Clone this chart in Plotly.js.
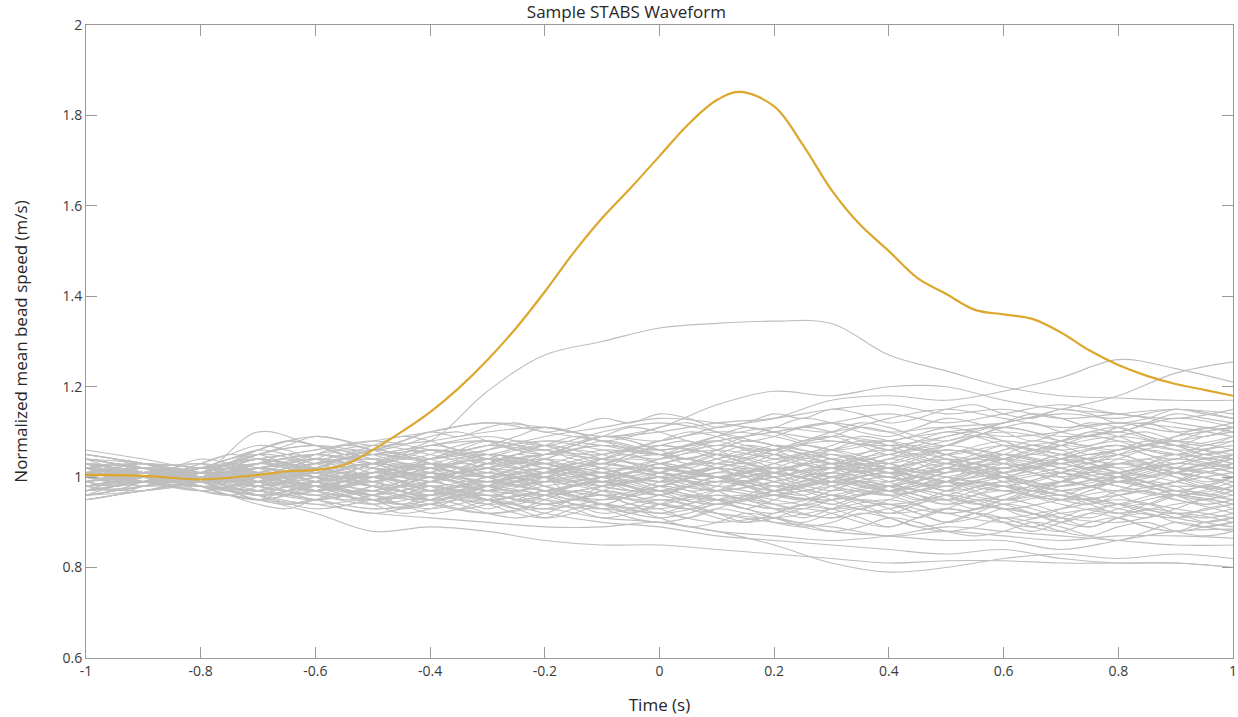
<!DOCTYPE html>
<html>
<head>
<meta charset="utf-8">
<script src="https://cdn.plot.ly/plotly-3.0.1.min.js"></script>
<style>html,body{margin:0;padding:0;background:#fff;}#chart{width:1238px;height:717px;}</style>
</head>
<body>
<div id="chart"></div>
<script>
// ---- data ----
const timeGrid = [-1,-0.9,-0.8,-0.7,-0.6,-0.5,-0.4,-0.3,-0.2,-0.1,0,0.1,0.2,0.3,0.4,0.5,0.6,0.7,0.8,0.9,1];
const timeGridFine = [-1,-0.95,-0.9,-0.85,-0.8,-0.75,-0.7,-0.65,-0.6,-0.55,-0.5,-0.45,-0.4,-0.35,-0.3,-0.25,-0.2,-0.15,-0.1,-0.05,0,0.05,0.1,0.15,0.2,0.25,0.3,0.35,0.4,0.45,0.5,0.55,0.6,0.65,0.7,0.75,0.8,0.85,0.9,0.95,1];

const sampleTime = [-1,-0.9,-0.8,-0.7,-0.65,-0.6,-0.55,-0.5,-0.45,-0.4,-0.35,-0.3,-0.25,-0.2,-0.15,-0.1,-0.05,0,0.05,0.1,0.14,0.2,0.25,0.3,0.35,0.4,0.45,0.5,0.55,0.6,0.65,0.7,0.75,0.8,0.85,0.9,0.95,1];
const sampleSpeed = [1.005,1.003,0.995,1.005,1.013,1.016,1.027,1.06,1.10,1.144,1.197,1.259,1.33,1.41,1.496,1.573,1.64,1.71,1.78,1.834,1.852,1.82,1.735,1.635,1.558,1.50,1.44,1.405,1.37,1.36,1.35,1.32,1.28,1.248,1.224,1.206,1.193,1.18];

// other bead-speed traces, coarse grid (timeGrid)
const g01 = [1.00,1.01,0.99,1.02,1.03,1.05,1.08,1.19,1.27,1.30,1.33,1.34,1.345,1.34,1.27,1.235,1.20,1.18,1.175,1.17,1.17];
const g02 = [1.02,1.00,1.01,0.99,1.03,1.05,1.04,1.07,1.06,1.09,1.08,1.11,1.13,1.17,1.18,1.17,1.19,1.22,1.26,1.24,1.21];
const g03 = [0.98,1.00,1.02,1.04,1.01,0.99,1.02,1.04,1.03,1.06,1.05,1.07,1.06,1.09,1.08,1.11,1.12,1.15,1.18,1.23,1.255];
const g04 = [1.03,1.02,1.00,1.05,1.07,1.06,1.10,1.12,1.11,1.09,1.11,1.16,1.19,1.18,1.20,1.20,1.17,1.15,1.14,1.12,1.10];
const g05 = [0.98,0.99,0.97,0.95,0.92,0.88,0.89,0.88,0.86,0.85,0.85,0.84,0.83,0.82,0.81,0.815,0.815,0.81,0.81,0.81,0.80];
const g06 = [1.03,1.01,0.98,0.97,0.95,0.93,0.94,0.92,0.93,0.91,0.90,0.88,0.85,0.81,0.79,0.80,0.82,0.83,0.82,0.83,0.82];
const g07 = [0.95,0.97,0.99,0.96,0.94,0.95,0.93,0.95,0.92,0.90,0.89,0.87,0.86,0.85,0.84,0.83,0.84,0.82,0.81,0.81,0.80];
const g08 = [1.00,1.01,0.98,1.00,0.97,0.95,0.96,0.94,0.95,0.93,0.92,0.90,0.91,0.88,0.87,0.86,0.86,0.84,0.86,0.88,0.885];
const g09 = [0.96,0.98,1.00,0.98,0.96,0.97,0.95,0.96,0.94,0.93,0.95,0.92,0.90,0.89,0.87,0.88,0.87,0.86,0.87,0.87,0.865];
const g10 = [1.05,1.03,1.01,1.06,1.09,1.07,1.08,1.10,1.11,1.09,1.10,1.12,1.13,1.15,1.16,1.14,1.15,1.13,1.14,1.15,1.14];
const g11 = [1.06,1.04,1.02,1.04,1.06,1.08,1.10,1.12,1.10,1.08,1.06,1.09,1.11,1.10,1.13,1.15,1.13,1.11,1.12,1.10,1.12];
const g12 = [1.04,1.02,1.00,1.01,1.03,1.05,1.04,1.06,1.09,1.11,1.13,1.12,1.10,1.08,1.07,1.09,1.12,1.14,1.13,1.15,1.13];
const g13 = [1.02,1.03,1.01,1.10,1.07,1.05,1.06,1.04,1.05,1.07,1.06,1.08,1.10,1.12,1.10,1.11,1.09,1.10,1.12,1.11,1.09];
const g14 = [1.01,1.00,1.02,1.03,1.05,1.04,1.07,1.08,1.06,1.05,1.08,1.10,1.09,1.06,1.08,1.10,1.11,1.09,1.10,1.13,1.11];
const g15 = [1.00,1.01,1.00,0.99,1.01,1.02,1.00,0.98,1.00,1.02,1.01,0.99,1.00,1.03,1.02,1.00,0.98,1.01,1.03,1.02,1.00];
const g16 = [0.99,1.00,1.01,1.03,1.02,1.00,1.03,1.05,1.03,1.01,1.04,1.06,1.04,1.02,1.05,1.07,1.05,1.03,1.06,1.08,1.06];
const g17 = [1.01,0.99,0.98,0.97,0.99,1.01,0.99,0.97,0.96,0.98,1.00,0.98,0.96,0.95,0.97,0.99,0.97,0.95,0.96,0.98,0.97];
const g18 = [0.98,1.00,1.02,1.01,0.98,0.97,1.00,1.02,1.04,1.02,0.99,1.01,1.04,1.06,1.03,1.01,1.04,1.07,1.05,1.02,1.04];
const g19 = [1.03,1.01,0.99,1.00,1.02,0.99,0.97,0.99,1.01,1.03,1.00,0.97,0.99,1.02,1.00,0.97,0.95,0.98,1.00,0.97,0.95];
const g20 = [0.97,0.99,1.00,0.98,1.00,1.03,1.01,0.99,0.97,0.95,0.97,1.00,1.02,1.00,0.98,1.01,1.03,1.01,0.98,0.96,0.98];
const g21 = [1.02,1.00,0.99,1.01,1.04,1.02,1.00,1.03,1.05,1.04,1.02,1.00,0.98,1.01,1.04,1.06,1.04,1.01,0.99,1.01,1.03];
const g22 = [1.00,0.98,0.99,1.02,1.00,0.98,0.96,0.98,1.00,0.98,0.96,0.94,0.97,0.99,0.97,0.94,0.96,0.99,1.01,0.99,0.96];
const g23 = [0.96,0.98,1.00,1.02,1.04,1.02,0.99,1.01,0.99,1.01,1.03,1.05,1.03,1.00,1.02,1.04,1.02,1.05,1.07,1.05,1.08];
const g24 = [1.04,1.02,1.01,0.99,0.97,1.00,1.02,1.00,1.02,1.05,1.07,1.05,1.02,1.04,1.06,1.03,1.01,1.03,1.00,1.03,1.05];
const g25 = [0.99,1.01,1.00,0.97,0.95,0.97,0.99,1.01,0.98,0.96,0.98,1.01,0.99,0.96,0.94,0.96,0.99,0.97,0.94,0.92,0.94];
const g26 = [1.01,1.02,1.00,1.02,1.00,1.01,1.03,1.01,0.99,1.00,1.02,1.03,1.01,0.99,1.01,0.99,1.02,1.04,1.02,1.04,1.02];
const g27 = [0.95,0.97,0.99,1.01,0.99,0.96,0.95,0.97,0.99,0.97,0.95,0.96,0.94,0.96,0.98,0.96,0.93,0.95,0.97,0.95,0.92];
const g28 = [1.05,1.03,1.00,1.02,1.05,1.07,1.05,1.02,1.00,1.03,1.05,1.03,1.06,1.08,1.06,1.03,1.06,1.08,1.10,1.07,1.09];
const g29 = [0.98,0.99,1.01,1.00,0.97,0.99,1.02,1.04,1.02,0.99,0.97,0.99,1.02,0.99,0.96,0.98,1.00,0.98,1.00,1.03,1.01];
const g30 = [1.02,1.01,0.99,0.96,0.98,1.00,0.98,0.96,0.98,1.00,1.02,1.00,0.97,0.99,1.01,0.99,0.97,0.99,0.97,0.99,1.01];
const g31 = [0.97,0.99,1.01,1.03,1.05,1.03,1.06,1.04,1.01,1.03,1.01,0.98,1.00,1.02,1.00,1.03,1.05,1.03,1.01,1.04,1.06];
const g32 = [1.00,1.02,1.01,0.98,0.96,0.94,0.96,0.98,0.96,0.94,0.92,0.94,0.96,0.94,0.92,0.93,0.91,0.93,0.95,0.93,0.91];
const g33 = [1.03,1.02,1.00,1.03,1.01,0.98,1.00,0.97,0.99,1.01,0.99,1.02,1.00,1.03,1.05,1.02,1.00,1.02,1.04,1.01,0.99];
const g34 = [0.96,0.97,0.99,0.98,1.01,1.03,1.01,0.98,0.96,0.98,1.00,1.02,1.05,1.03,1.00,0.98,1.00,1.03,1.05,1.07,1.04];
const g35 = [1.01,1.00,0.98,0.96,0.93,0.95,0.97,0.95,0.93,0.95,0.97,0.95,0.93,0.91,0.93,0.95,0.93,0.91,0.90,0.92,0.90];
const g36 = [0.99,1.01,1.02,1.04,1.06,1.08,1.06,1.03,1.05,1.07,1.05,1.03,1.01,1.04,1.02,1.05,1.08,1.06,1.08,1.06,1.07];
const g37 = [1.02,1.00,0.99,1.00,0.98,1.00,0.97,0.95,0.97,0.99,0.96,0.94,0.96,0.98,1.00,0.97,0.99,1.01,0.98,0.96,0.99];
const g38 = [0.98,1.00,1.01,0.99,1.02,1.04,1.02,1.00,1.02,0.99,1.01,1.04,1.06,1.04,1.01,1.03,1.00,0.97,0.99,1.01,0.98];
const g39 = [1.04,1.03,1.01,1.05,1.03,1.00,1.01,0.99,1.01,1.04,1.02,1.00,1.02,1.00,0.97,0.99,1.01,1.04,1.06,1.08,1.10];
const g40 = [0.97,0.98,1.00,1.02,0.99,0.97,0.94,0.92,0.94,0.96,0.94,0.92,0.91,0.93,0.95,0.92,0.90,0.92,0.94,0.97,0.95];
const g41 = [1.00,0.99,1.00,1.03,1.05,1.03,1.00,1.02,1.00,0.98,1.00,1.02,1.00,0.97,0.99,1.02,1.04,1.02,0.99,0.97,1.00];
const g42 = [0.99,1.00,0.98,0.96,0.97,0.99,1.01,0.99,1.02,1.00,0.97,0.95,0.97,1.00,1.02,1.00,0.98,0.96,0.94,0.96,0.94];
const g43 = [1.01,1.02,1.03,1.01,0.99,1.01,1.04,1.06,1.08,1.06,1.04,1.07,1.05,1.03,1.05,1.08,1.10,1.08,1.06,1.09,1.11];
const g44 = [0.95,0.97,0.98,0.97,0.95,0.93,0.94,0.96,0.94,0.96,0.94,0.97,0.95,0.93,0.94,0.92,0.94,0.96,0.93,0.91,0.93];
const g45 = [1.03,1.01,1.00,0.99,1.01,1.00,0.98,1.00,1.03,1.01,0.99,0.97,0.99,1.01,0.99,1.02,1.00,0.98,1.01,1.03,1.02];
const g46 = [1.00,1.01,0.99,1.00,1.03,1.05,1.07,1.09,1.07,1.10,1.12,1.10,1.07,1.05,1.03,1.06,1.04,1.07,1.09,1.07,1.05];
const g47 = [0.98,0.97,0.99,1.01,0.98,0.96,0.98,0.95,0.97,0.99,1.01,0.99,1.01,0.98,0.96,0.98,0.95,0.97,0.99,1.02,1.00];
const g48 = [1.02,1.03,1.02,1.00,1.02,1.00,1.03,1.00,0.97,0.99,0.97,0.99,0.97,0.99,0.97,1.00,1.02,1.00,1.03,1.00,0.97];
const g49 = [0.97,0.99,1.01,1.05,1.07,1.04,1.02,1.05,1.03,1.00,1.02,1.00,1.03,1.06,1.08,1.05,1.07,1.05,1.03,1.05,1.03];
const g50 = [1.01,0.99,0.97,0.99,0.97,0.95,0.97,0.99,0.97,0.94,0.93,0.95,0.93,0.95,0.97,0.95,0.97,0.94,0.92,0.94,0.96];
const g51 = [1.00,0.99,0.97,0.95,0.94,0.92,0.91,0.90,0.89,0.89,0.90,0.88,0.87,0.86,0.87,0.89,0.88,0.87,0.86,0.85,0.85];
const g52 = [1.03,1.00,1.01,1.04,1.02,1.03,1.06,1.05,1.08,1.07,1.05,1.08,1.10,1.12,1.14,1.12,1.14,1.16,1.14,1.13,1.15];

// other bead-speed traces, fine grid (timeGridFine)
const h01 = [1.04,1.03,1.01,1.00,1.01, 1.03,1.06,1.08,1.07,1.05, 1.06,1.08,1.10,1.09,1.11, 1.12,1.10,1.11,1.13,1.12, 1.14,1.13,1.11,1.12,1.14, 1.13,1.15,1.14,1.12,1.13, 1.15,1.16,1.14,1.13,1.15, 1.14,1.12,1.13,1.15,1.14, 1.13];
const h02 = [0.96,0.97,0.99,1.00,0.99, 0.97,0.95,0.94,0.95,0.93, 0.92,0.93,0.95,0.94,0.92, 0.91,0.92,0.94,0.93,0.91, 0.90,0.91,0.93,0.92,0.90, 0.89,0.90,0.92,0.91,0.89, 0.88,0.89,0.91,0.90,0.88, 0.87,0.89,0.90,0.88,0.87, 0.88];
const h03 = [1.01,1.02,1.03,1.02,1.00, 1.02,1.04,1.03,1.05,1.07, 1.06,1.04,1.05,1.07,1.08, 1.06,1.05,1.07,1.09,1.08, 1.06,1.07,1.09,1.11,1.10, 1.08,1.09,1.11,1.10,1.08, 1.07,1.09,1.11,1.12,1.10, 1.09,1.11,1.12,1.10,1.09, 1.11];
const h04 = [0.99,0.98,0.99,1.00,1.01, 0.99,0.98,0.96,0.97,0.99, 0.98,0.96,0.95,0.97,0.98, 0.96,0.94,0.95,0.97,0.96, 0.94,0.93,0.95,0.96,0.94, 0.93,0.95,0.97,0.96,0.94, 0.92,0.93,0.95,0.94,0.92, 0.91,0.93,0.94,0.92,0.91, 0.92];
const h05 = [1.02,1.01,1.00,0.99,1.00, 1.02,1.01,0.99,1.00,1.02, 1.03,1.01,1.00,1.02,1.04, 1.03,1.01,1.02,1.04,1.05, 1.03,1.02,1.04,1.06,1.05, 1.03,1.02,1.04,1.06,1.07, 1.05,1.04,1.06,1.08,1.07, 1.05,1.06,1.08,1.07,1.05, 1.06];
const h06 = [0.97,0.98,1.00,1.01,1.00, 0.98,0.97,0.99,1.01,1.00, 0.98,0.97,0.99,1.00,0.98, 0.97,0.99,1.01,1.00,0.98, 0.96,0.98,1.00,0.99,0.97, 0.95,0.97,0.99,0.98,0.96, 0.95,0.97,0.98,0.96,0.95, 0.97,0.99,0.98,0.96,0.95, 0.97];
const h07 = [1.05,1.04,1.02,1.01,1.02, 1.04,1.05,1.03,1.02,1.04, 1.06,1.05,1.03,1.02,1.04, 1.06,1.07,1.05,1.03,1.05, 1.07,1.08,1.06,1.04,1.06, 1.08,1.09,1.07,1.05,1.07, 1.09,1.10,1.08,1.06,1.08, 1.10,1.11,1.09,1.07,1.09, 1.10];
const h08 = [0.98,0.99,1.00,0.99,0.98, 0.96,0.94,0.93,0.95,0.96, 0.94,0.92,0.93,0.95,0.94, 0.92,0.91,0.93,0.94,0.92, 0.91,0.92,0.94,0.93,0.91, 0.90,0.92,0.93,0.91,0.89, 0.90,0.92,0.91,0.89,0.88, 0.90,0.91,0.89,0.88,0.89, 0.90];
const h09 = [1.00,1.01,1.02,1.01,1.00, 1.01,1.03,1.02,1.00,0.99, 1.01,1.03,1.02,1.00,1.01, 1.03,1.04,1.02,1.00,1.01, 1.03,1.02,1.00,0.99,1.01, 1.03,1.02,1.00,0.98,1.00, 1.02,1.01,0.99,0.97,0.99, 1.01,1.00,0.98,0.99,1.01, 1.02];
const h10 = [1.03,1.02,1.01,1.00,1.01, 1.03,1.05,1.07,1.09,1.08, 1.06,1.07,1.09,1.10,1.08, 1.06,1.07,1.09,1.08,1.06, 1.05,1.07,1.08,1.06,1.04, 1.05,1.07,1.09,1.08,1.06, 1.07,1.09,1.11,1.10,1.08, 1.07,1.09,1.10,1.08,1.07, 1.09];
const h11 = [0.95,0.96,0.98,0.99,0.98, 0.96,0.95,0.97,0.98,0.96, 0.95,0.96,0.98,0.97,0.95, 0.94,0.96,0.98,0.99,0.97, 0.96,0.98,1.00,0.99,0.97, 0.96,0.98,1.00,1.01,0.99, 0.97,0.99,1.01,1.02,1.00, 0.98,1.00,1.02,1.01,0.99, 1.00];
const h12 = [1.01,1.00,0.99,1.00,1.02, 1.01,0.99,0.97,0.96,0.98, 1.00,0.99,0.97,0.96,0.98, 1.00,1.01,0.99,0.97,0.95, 0.96,0.98,1.00,0.98,0.96, 0.95,0.97,0.99,0.98,0.96, 0.94,0.96,0.98,0.97,0.95, 0.94,0.96,0.97,0.95,0.94, 0.95];
const h13 = [0.99,1.00,1.01,1.00,0.99, 1.01,1.03,1.04,1.02,1.01, 1.03,1.05,1.04,1.02,1.03, 1.05,1.06,1.04,1.03,1.05, 1.07,1.06,1.04,1.03,1.05, 1.07,1.06,1.04,1.02,1.04, 1.06,1.05,1.03,1.02,1.04, 1.06,1.07,1.05,1.04,1.06, 1.07];
const h14 = [1.02,1.03,1.02,1.00,0.99, 0.97,0.96,0.98,0.99,0.97, 0.96,0.94,0.95,0.97,0.96, 0.94,0.93,0.95,0.96,0.94, 0.93,0.91,0.93,0.95,0.94, 0.92,0.91,0.93,0.94,0.92, 0.90,0.91,0.93,0.92,0.90, 0.89,0.91,0.92,0.90,0.89, 0.90];
const h15 = [0.98,0.97,0.98,1.00,1.02, 1.04,1.06,1.05,1.03,1.04, 1.06,1.05,1.03,1.01,1.02, 1.04,1.03,1.01,0.99,1.01, 1.03,1.02,1.00,1.01,1.03, 1.05,1.04,1.02,1.00,1.02, 1.04,1.03,1.01,1.03,1.05, 1.04,1.02,1.00,1.02,1.04, 1.03];
const h16 = [1.00,0.99,0.98,0.99,1.00, 0.98,0.96,0.97,0.99,1.00, 0.98,0.97,0.99,1.01,1.00, 0.98,1.00,1.02,1.01,0.99, 1.01,1.03,1.02,1.00,0.98, 1.00,1.02,1.01,0.99,0.97, 0.99,1.01,1.00,0.98,0.96, 0.98,1.00,0.99,0.97,0.96, 0.98];
const h17 = [1.04,1.03,1.02,1.01,1.03, 1.05,1.07,1.06,1.04,1.05, 1.07,1.09,1.08,1.06,1.07, 1.09,1.11,1.10,1.08,1.09, 1.11,1.12,1.10,1.08,1.09, 1.11,1.10,1.08,1.06,1.08, 1.10,1.09,1.07,1.05,1.07, 1.09,1.08,1.06,1.05,1.07, 1.08];
const h18 = [0.96,0.98,0.99,0.98,0.97, 0.98,1.00,0.99,0.97,0.95, 0.96,0.98,0.97,0.95,0.93, 0.95,0.97,0.96,0.94,0.92, 0.94,0.96,0.95,0.93,0.92, 0.94,0.96,0.95,0.93,0.91, 0.93,0.95,0.94,0.92,0.90, 0.92,0.94,0.93,0.91,0.90, 0.91];
const h19 = [1.01,1.02,1.00,0.99,1.01, 1.03,1.02,1.00,1.02,1.04, 1.03,1.01,0.99,1.01,1.03, 1.02,1.00,0.98,1.00,1.02, 1.01,0.99,0.97,0.99,1.01, 1.00,0.98,0.96,0.98,1.00, 0.99,0.97,0.95,0.97,0.99, 0.98,0.96,0.94,0.96,0.98, 0.97];
const h20 = [0.99,1.00,1.01,1.02,1.01, 0.99,1.00,1.02,1.04,1.03, 1.01,1.02,1.04,1.06,1.05, 1.03,1.04,1.06,1.05,1.03, 1.01,1.03,1.05,1.04,1.02, 1.00,1.02,1.04,1.03,1.01, 1.03,1.05,1.07,1.06,1.04, 1.03,1.05,1.07,1.06,1.04, 1.05];
const h21 = [1.03,1.01,1.00,1.01,1.00, 0.98,0.99,1.01,1.00,0.98, 0.97,0.99,1.01,1.03,1.02, 1.00,1.01,1.03,1.02,1.00, 0.98,1.00,1.02,1.01,0.99, 0.98,1.00,1.02,1.04,1.03, 1.01,1.03,1.05,1.04,1.02, 1.01,1.03,1.04,1.02,1.01, 1.03];
const h22 = [0.97,0.98,1.00,1.01,0.99, 0.97,0.95,0.96,0.98,0.97, 0.95,0.94,0.96,0.98,0.97, 0.95,0.96,0.98,1.00,0.99, 0.97,0.95,0.97,0.99,0.98, 0.96,0.94,0.96,0.98,0.97, 0.95,0.93,0.95,0.97,0.96, 0.94,0.92,0.94,0.96,0.95, 0.93];
const h23 = [1.00,1.01,1.00,1.01,1.03, 1.05,1.04,1.02,1.01,1.03, 1.02,1.00,1.01,1.03,1.05, 1.04,1.02,1.00,1.02,1.04, 1.03,1.01,1.03,1.05,1.07, 1.06,1.04,1.02,1.04,1.06, 1.05,1.03,1.05,1.07,1.06, 1.04,1.06,1.08,1.07,1.05, 1.04];
const h24 = [1.02,1.00,0.99,0.98,1.00, 1.01,0.99,0.97,0.95,0.96, 0.98,0.97,0.95,0.93,0.94, 0.96,0.95,0.93,0.91,0.92, 0.94,0.93,0.91,0.90,0.92, 0.94,0.93,0.91,0.89,0.91, 0.93,0.92,0.90,0.88,0.90, 0.92,0.91,0.89,0.88,0.90, 0.91];
const h25 = [0.98,0.99,1.01,1.02,1.03, 1.01,1.00,1.02,1.04,1.06, 1.05,1.03,1.02,1.04,1.06, 1.08,1.07,1.05,1.04,1.06, 1.08,1.10,1.09,1.07,1.06, 1.08,1.10,1.12,1.11,1.09, 1.08,1.10,1.12,1.14,1.13, 1.11,1.10,1.12,1.14,1.13, 1.12];
const h26 = [1.01,1.00,1.00,0.99,0.97, 0.96,0.98,1.00,0.99,0.97, 0.96,0.98,1.00,0.99,0.97, 0.99,1.01,1.00,0.98,0.97, 0.99,1.01,1.00,0.98,0.96, 0.98,1.00,0.99,0.97,0.95, 0.97,0.99,0.98,0.96,0.95, 0.97,0.99,0.98,0.96,0.94, 0.95];
const h27 = [1.05,1.04,1.03,1.01,1.00, 1.01,1.03,1.05,1.04,1.02, 1.00,1.01,1.03,1.02,1.00, 0.99,1.01,1.03,1.02,1.00, 0.98,1.00,1.02,1.03,1.01, 0.99,1.01,1.03,1.02,1.00, 0.99,1.01,1.03,1.05,1.04, 1.02,1.04,1.06,1.05,1.03, 1.05];
const h28 = [0.96,0.97,0.99,1.00,1.01, 1.02,1.00,0.98,0.97,0.99, 1.01,1.00,0.98,0.96,0.97, 0.99,0.98,0.96,0.94,0.96, 0.98,0.97,0.95,0.93,0.95, 0.97,0.96,0.94,0.92,0.94, 0.96,0.95,0.93,0.91,0.93, 0.95,0.94,0.92,0.91,0.93, 0.94];
const h29 = [1.00,1.02,1.03,1.02,1.00, 1.02,1.04,1.03,1.01,1.00, 1.02,1.04,1.03,1.01,1.03, 1.05,1.04,1.02,1.04,1.06, 1.05,1.03,1.05,1.07,1.06, 1.04,1.06,1.08,1.07,1.05, 1.07,1.09,1.08,1.06,1.08, 1.10,1.09,1.07,1.09,1.11, 1.10];
const h30 = [0.99,0.98,0.99,1.01,1.00, 0.98,0.99,1.01,1.00,0.97, 0.98,1.01,1.00,0.97,0.98, 1.01,1.00,0.96,0.98,1.01, 1.00,0.97,0.98,1.02,1.00, 0.97,0.99,1.02,1.01,0.98, 0.99,1.02,1.00,0.97,0.99, 1.02,1.01,0.98,0.99,1.02, 1.01];
const h31 = [1.03,1.02,1.00,0.99,1.00, 0.98,0.96,0.94,0.95,0.97, 0.96,0.94,0.92,0.93,0.95, 0.97,0.96,0.94,0.92,0.93, 0.95,0.94,0.92,0.90,0.91, 0.93,0.92,0.90,0.89,0.91, 0.93,0.92,0.90,0.89,0.91, 0.93,0.92,0.91,0.93,0.95, 0.94];
const h32 = [0.97,0.99,1.00,1.01,1.02, 1.04,1.06,1.08,1.07,1.05, 1.03,1.04,1.06,1.05,1.03, 1.02,1.04,1.06,1.08,1.07, 1.05,1.04,1.06,1.08,1.07, 1.05,1.03,1.05,1.07,1.06, 1.04,1.02,1.04,1.06,1.05, 1.03,1.01,1.03,1.05,1.04, 1.02];
const h33 = [1.01,1.01,1.02,1.01,0.99, 1.00,1.02,1.01,0.99,0.98, 1.00,1.02,1.01,0.99,1.00, 1.02,1.03,1.01,0.99,1.01, 1.03,1.04,1.02,1.00,1.02, 1.04,1.05,1.03,1.01,1.03, 1.05,1.06,1.04,1.02,1.04, 1.06,1.07,1.05,1.03,1.05, 1.06];
const h34 = [0.98,0.99,0.99,1.00,0.98, 0.96,0.97,0.99,0.98,0.96, 0.94,0.96,0.98,0.97,0.95, 0.93,0.95,0.97,0.96,0.94, 0.92,0.94,0.96,0.95,0.93, 0.91,0.93,0.95,0.94,0.92, 0.90,0.92,0.94,0.93,0.91, 0.89,0.91,0.93,0.92,0.90, 0.89];
const h35 = [1.02,1.01,1.00,1.02,1.04, 1.03,1.01,1.00,1.02,1.04, 1.06,1.05,1.03,1.01,1.03, 1.05,1.07,1.06,1.04,1.02, 1.04,1.06,1.05,1.03,1.01, 1.03,1.05,1.04,1.02,1.00, 1.02,1.04,1.03,1.01,0.99, 1.01,1.03,1.02,1.00,0.98, 1.00];
const h36 = [1.00,0.99,1.00,1.00,1.01, 1.00,0.98,0.97,0.99,1.01, 1.00,0.98,0.96,0.98,1.00, 0.99,0.97,0.95,0.97,0.99, 0.98,0.96,0.94,0.96,0.98, 0.97,0.95,0.93,0.95,0.97, 0.96,0.94,0.96,0.98,0.97, 0.95,0.97,0.99,0.98,0.96, 0.97];
const h37 = [1.04,1.02,1.01,1.00,0.98, 0.97,0.99,1.01,1.03,1.05, 1.04,1.02,1.04,1.06,1.08, 1.07,1.05,1.07,1.09,1.08, 1.06,1.04,1.06,1.08,1.07, 1.05,1.03,1.01,1.03,1.05, 1.04,1.02,1.00,1.02,1.04, 1.03,1.01,0.99,1.01,1.03, 1.02];
const h38 = [0.97,0.98,1.00,0.99,1.00, 1.02,1.01,0.99,0.98,1.00, 0.99,0.97,0.95,0.96,0.98, 1.00,0.98,0.96,0.94,0.96, 0.98,0.99,0.97,0.95,0.97, 0.99,1.01,0.99,0.97,0.99, 1.01,1.03,1.01,0.99,1.01, 1.03,1.05,1.03,1.01,1.03, 1.04];
const h39 = [1.01,1.00,0.99,0.98,0.99, 1.01,1.03,1.02,1.00,1.01, 1.03,1.05,1.07,1.06,1.04, 1.03,1.05,1.07,1.09,1.11, 1.10,1.08,1.07,1.09,1.11, 1.13,1.12,1.10,1.09,1.11, 1.13,1.12,1.10,1.08,1.10, 1.12,1.11,1.09,1.08,1.10, 1.11];
const h40 = [0.99,1.00,1.01,1.00,0.99, 0.97,0.95,0.96,0.98,0.97, 0.95,0.93,0.94,0.96,0.95, 0.93,0.91,0.92,0.94,0.93, 0.91,0.89,0.90,0.92,0.91, 0.89,0.88,0.89,0.91,0.90, 0.88,0.87,0.88,0.90,0.89, 0.87,0.86,0.88,0.90,0.89, 0.88];

const coarseTraces = [g01,g02,g03,g04,g05,g06,g07,g08,g09,g10,g11,g12,g13,g14,g15,g16,g17,g18,g19,g20,
  g21,g22,g23,g24,g25,g26,g27,g28,g29,g30,g31,g32,g33,g34,g35,g36,g37,g38,g39,g40,
  g41,g42,g43,g44,g45,g46,g47,g48,g49,g50,g51,g52];
const fineTraces = [h01,h02,h03,h04,h05,h06,h07,h08,h09,h10,h11,h12,h13,h14,h15,h16,h17,h18,h19,h20,
  h21,h22,h23,h24,h25,h26,h27,h28,h29,h30,h31,h32,h33,h34,h35,h36,h37,h38,h39,h40];

const xTickVals = [-1,-0.8,-0.6,-0.4,-0.2,0,0.2,0.4,0.6,0.8,1];
const xTickText = ["-1","-0.8","-0.6","-0.4","-0.2","0","0.2","0.4","0.6","0.8","1"];
const yTickVals = [0.6,0.8,1,1.2,1.4,1.6,1.8,2];
const yTickText = ["0.6","0.8","1","1.2","1.4","1.6","1.8","2"];

// ---- chart ----
const FONT = '"Open Sans", "Liberation Sans", sans-serif';
const AXIS_COLOR = '#9a9a9a';
const GRAY_LINE = {color: '#bebebe', width: 1.1, shape: 'spline', smoothing: 1};

const traces = [];
coarseTraces.forEach(v => traces.push({
  x: timeGrid, y: v, type: 'scatter', mode: 'lines', line: GRAY_LINE, hoverinfo: 'skip', showlegend: false
}));
fineTraces.forEach(v => traces.push({
  x: timeGridFine, y: v, type: 'scatter', mode: 'lines', line: GRAY_LINE, hoverinfo: 'skip', showlegend: false
}));
traces.push({
  x: sampleTime, y: sampleSpeed, type: 'scatter', mode: 'lines',
  line: {color: '#DCA72C', width: 2.2, shape: 'spline', smoothing: 1},
  showlegend: false
});

const axisCommon = {
  showgrid: false, zeroline: false, showline: true, linecolor: AXIS_COLOR, linewidth: 1,
  mirror: 'ticks', ticks: 'inside', ticklen: 11, tickwidth: 1, tickcolor: AXIS_COLOR,
  tickfont: {family: FONT, size: 14, color: '#3a3a3a'}, tickmode: 'array'
};

const layout = {
  width: 1238, height: 717,
  margin: {l: 86, r: 5, t: 25, b: 59},
  paper_bgcolor: '#fff', plot_bgcolor: '#fff',
  font: {family: FONT, color: '#262626'},
  title: {text: 'Sample STABS Waveform', font: {family: FONT, size: 17, color: '#262626'},
          xref: 'container', x: 0.506, xanchor: 'center', yref: 'container', y: 0.983, yanchor: 'middle'},
  xaxis: Object.assign({}, axisCommon, {
    range: [-1, 1], tickvals: xTickVals, ticktext: xTickText,
    title: {text: 'Time (s)', font: {family: FONT, size: 17, color: '#262626'}, standoff: 20}
  }),
  yaxis: Object.assign({}, axisCommon, {
    range: [0.6, 2], tickvals: yTickVals, ticktext: yTickText,
    title: {text: 'Normalized mean bead speed (m/s)', font: {family: FONT, size: 17, color: '#262626'}, standoff: 30}
  }),
  showlegend: false
};

Plotly.newPlot('chart', traces, layout, {displayModeBar: false, staticPlot: true});
</script>
</body>
</html>
